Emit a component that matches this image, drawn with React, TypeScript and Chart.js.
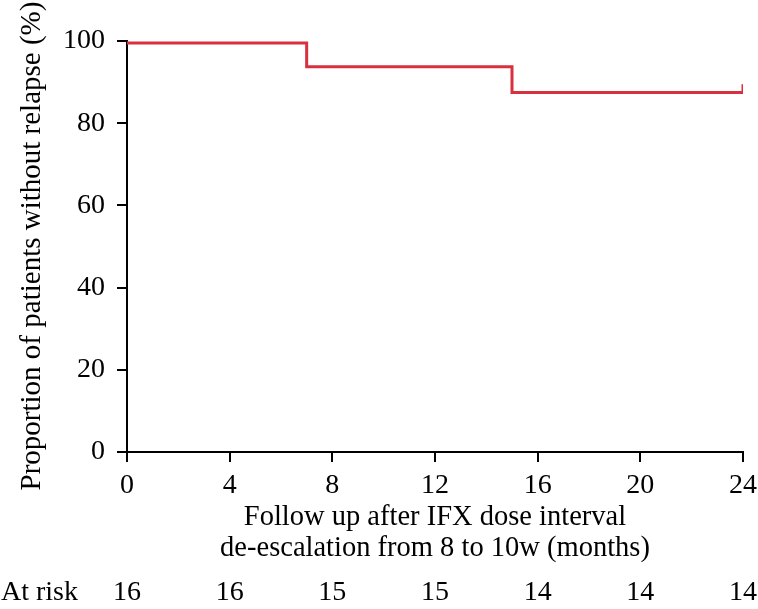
import React, { useEffect, useRef } from 'react';
import { Chart, registerables } from 'chart.js';

Chart.register(...registerables);

// ---- data ----
const timeMonths = [0, 7, 15, 24, 24];
const survivalPct = [99.5, 93.75, 87.5, 87.5, 89.5];
const xTickValues = [0, 4, 8, 12, 16, 20, 24];
const atRiskCounts = [16, 16, 15, 15, 14, 14, 14];
const atRiskLabel = 'At risk';
const yTitle = 'Proportion of patients without relapse (%)';
const xTitle = ['Follow up after IFX dose interval', 'de-escalation from 8 to 10w (months)'];

const FONT = '"Liberation Serif", "Times New Roman", serif';
const FS = 28;
const TFS = 28.5;
const YTFS = 29;
const RED = '#d8303f';

export default function App() {
  const ref = useRef<HTMLCanvasElement | null>(null);

  useEffect(() => {
    if (!ref.current) return;
    const extras = {
      id: 'extras',
      afterDraw(chart: any) {
        const ctx = chart.ctx;
        ctx.save();
        ctx.fillStyle = '#000';
        ctx.font = `${FS}px ${FONT}`;
        ctx.textBaseline = 'alphabetic';
        ctx.textAlign = 'left';
        ctx.fillText(atRiskLabel, 1, 600);
        ctx.textAlign = 'center';
        const xs = chart.scales.x;
        xTickValues.forEach((v, i) => {
          ctx.fillText(String(atRiskCounts[i]), xs.getPixelForValue(v), 600);
        });
        // y title
        ctx.font = `${YTFS}px ${FONT}`;
        ctx.translate(40, 246);
        ctx.rotate(-Math.PI / 2);
        ctx.textAlign = 'center';
        ctx.fillText(yTitle, 0, 0);
        ctx.restore();
      },
    };

    const chart = new Chart(ref.current, {
      type: 'line',
      data: {
        datasets: [
          {
            data: timeMonths.map((t, i) => ({ x: t, y: survivalPct[i] })),
            borderColor: RED,
            backgroundColor: RED,
            borderWidth: 3,
            pointRadius: 0,
            stepped: true,
            fill: false,
            borderCapStyle: 'butt',
            borderJoinStyle: 'miter',
          },
        ],
      },
      options: {
        animation: false,
        responsive: false,
        maintainAspectRatio: false,
        layout: { padding: { top: 41, right: 15, bottom: 44.5, left: 0 } },
        plugins: { legend: { display: false }, tooltip: { enabled: false } },
        scales: {
          x: {
            type: 'linear',
            min: 0,
            max: 24,
            afterBuildTicks: (s: any) => {
              s.ticks = xTickValues.map((v) => ({ value: v }));
            },
            ticks: { color: '#000', font: { family: FONT, size: FS }, padding: 7, maxRotation: 0 },
            grid: { drawOnChartArea: false, drawTicks: true, tickLength: 10, color: '#000', lineWidth: 2 },
            border: { display: true, color: '#000', width: 2 },
            title: {
              display: true,
              text: xTitle,
              color: '#000',
              font: { family: FONT, size: TFS, lineHeight: '31px' },
              padding: { top: 0, bottom: 0 },
            },
            afterFit: (s: any) => {
              s.height = 112.5;
              s.paddingLeft = 0;
              s.paddingRight = 0;
            },
          },
          y: {
            min: 0,
            max: 100,
            ticks: { stepSize: 20, color: '#000', font: { family: FONT, size: FS }, padding: 12 },
            grid: { drawOnChartArea: false, drawTicks: true, tickLength: 10, color: '#000', lineWidth: 2 },
            border: { display: true, color: '#000', width: 2 },
            afterFit: (s: any) => {
              s.width = 127;
              s.paddingTop = 0;
              s.paddingBottom = 0;
            },
          },
        },
      },
      plugins: [extras],
    } as any);
    return () => chart.destroy();
  }, []);

  return (
    <div style={{ position: 'absolute', left: 0, top: 0, width: 758, height: 609 }}>
      <canvas ref={ref} width={758} height={609} style={{ width: 758, height: 609 }} />
    </div>
  );
}
